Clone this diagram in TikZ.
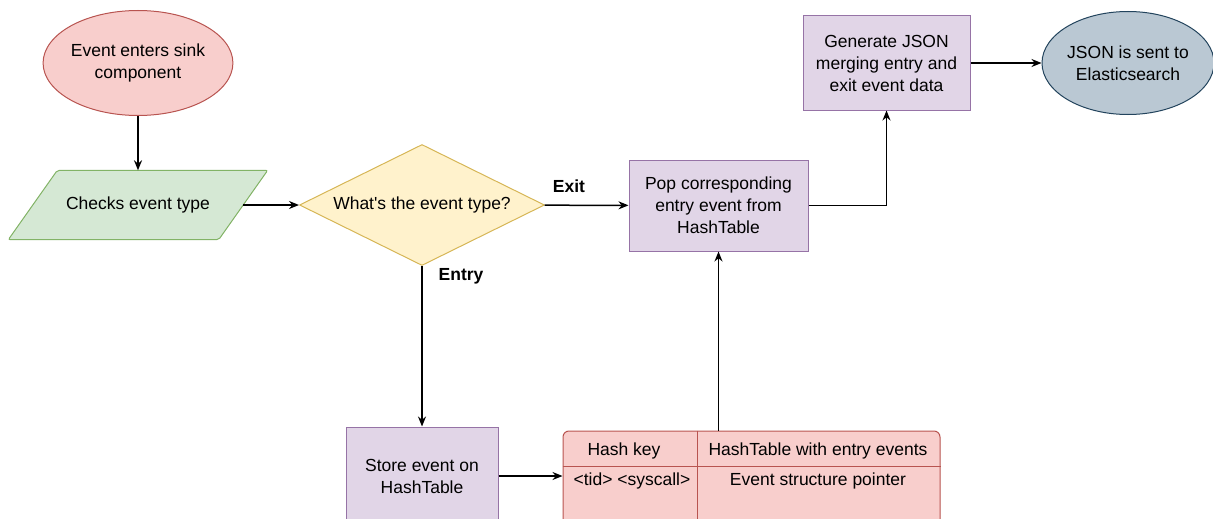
\documentclass[tikz,border=0pt]{standalone}
\usepackage{fontspec}
\setmainfont{Liberation Sans}
\usetikzlibrary{shapes.geometric,arrows.meta}
\definecolor{redfill}{HTML}{F8CECC}
\definecolor{redline}{HTML}{B85450}
\definecolor{greenfill}{HTML}{D5E8D4}
\definecolor{greenline}{HTML}{82B366}
\definecolor{yellowfill}{HTML}{FFF2CC}
\definecolor{yellowline}{HTML}{D6B656}
\definecolor{purplefill}{HTML}{E1D5E7}
\definecolor{purpleline}{HTML}{9673A6}
\definecolor{bluefill}{HTML}{BAC8D3}
\definecolor{blueline}{HTML}{23445D}
\tikzset{
    every node/.style={font=\fontsize{17.5}{22}\selectfont, align=center,
    	inner sep=0pt}
}
\tikzset{
    terminal/.style={ellipse, draw, line width=1pt},
    iobox/.style={rectangle, minimum width=210pt, minimum height=69pt},
    io/.style={draw=greenline, fill=greenfill, line width=1pt,
    	rounded corners=2pt},
    decision/.style={diamond, aspect=2, draw=yellowline, fill=yellowfill,
    	line width=1pt, minimum width=245pt, minimum height=121pt},
    process/.style={rectangle, draw=purpleline, fill=purplefill, line width=1pt},
    tablebox/.style={rectangle, draw=redline, fill=redfill, line width=1pt,
    	rounded corners=6pt},
    tag/.style={font=\fontsize{17.5}{22}\selectfont\bfseries},
    flow/.style={line width=1.5pt, -{Stealth[length=10pt,width=8pt]}}
}
\pgfdeclarelayer{background}
\pgfsetlayers{background,main}

\begin{document}
\begin{tikzpicture}[x=1pt, y=-1pt]
	\clip (0,0) rectangle (1213,519);
	\node (start) [terminal, fill=redfill, draw=redline, minimum width=180pt,
		minimum height=105pt] at (138, 63) {Event enters sink\\component};
	\node (check) [iobox] at (138, 205) {Checks event type};
	\node (type) [decision] at (422, 205) {What\textquotesingle s the event type?};
	\node (pop) [process, minimum width=179pt, minimum height=91pt]
		at (718.5, 205.5) {Pop corresponding\\entry event from\\HashTable};
	\node (store) [process, minimum width=152pt, minimum height=98pt]
		at (422, 476) {Store event on\\HashTable};
	\node (table) [tablebox, minimum width=377pt, minimum height=94pt]
		at (751.5, 478) {};
	\node (gen) [process, minimum width=167pt, minimum height=94pt]
		at (886.5, 63) {Generate JSON\\merging entry and\\exit event data};
	\node (sent) [terminal, fill=bluefill, draw=blueline, minimum width=172pt,
		minimum height=103pt] at (1128, 63) {JSON is sent to\\Elasticsearch};
	
	\begin{pgfonlayer}{background}
		\draw [io] ([xshift=-24.5pt]check.south west) -- ([xshift=-24.5pt]check.south east)
			-- ([xshift=24.5pt]check.north east) -- ([xshift=24.5pt]check.north west) -- cycle;
	\end{pgfonlayer}
	
	% table cells
	\coordinate (rowline) at (0, 466);
	\coordinate (colline) at (697, 0);
	\draw [redline, line width=1pt] (table.west |- rowline) -- (table.east |- rowline);
	\draw [redline, line width=1pt] (colline |- table.north) -- (colline |- table.south);
	\node (hkey) at (624, 451) {Hash key};
	\node (hval) at (818, 451) {HashTable with entry events};
	\node (kval) at (632, 481) {<tid> <syscall>};
	\node (pval) at (818, 481) {Event structure pointer};
	
	\node (exit) [tag] at (569, 186) {Exit};
	\node (entry) [tag] at (461, 276) {Entry};
	
	\draw [flow] (start) -- (check);
	\draw [flow] (check) -- (type);
	\draw [flow] (type) -- (pop);
	\draw [flow] (type) -- (store);
	\draw [flow] (store.east) -- (store.east -| table.west);
	\draw [flow] (pop |- table.north) -- (pop);
	\draw [flow] (pop) -| (gen);
	\draw [flow] (gen) -- (sent);
\end{tikzpicture}
\end{document}
